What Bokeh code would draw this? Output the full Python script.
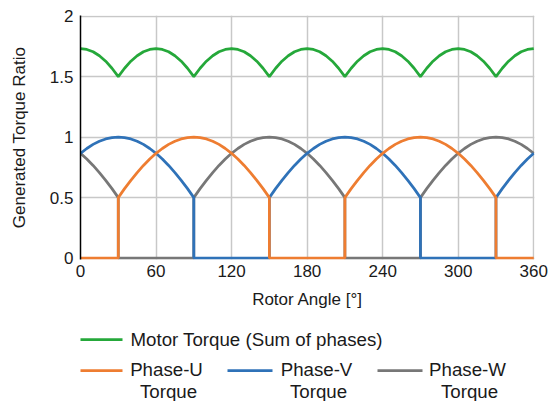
from bokeh.plotting import figure
from bokeh.models import FixedTicker, NumeralTickFormatter, Range1d
from bokeh.layouts import column
from bokeh.core.properties import value
from bokeh.embed import file_html
from bokeh.resources import INLINE

# ---------------- data ----------------
angle = [0, 5, 10, 15, 20, 25, 30,
         30, 35, 40, 45, 50, 55, 60, 65, 70, 75, 80, 85, 90,
         90, 95, 100, 105, 110, 115, 120, 125, 130, 135, 140, 145, 150,
         150, 155, 160, 165, 170, 175, 180, 185, 190, 195, 200, 205, 210,
         210, 215, 220, 225, 230, 235, 240, 245, 250, 255, 260, 265, 270,
         270, 275, 280, 285, 290, 295, 300, 305, 310, 315, 320, 325, 330,
         330, 335, 340, 345, 350, 355, 360]

motor_torque = [1.732, 1.725, 1.706, 1.673, 1.628, 1.570, 1.5,
                1.5, 1.570, 1.628, 1.673, 1.706, 1.725, 1.732, 1.725, 1.706, 1.673, 1.628, 1.570, 1.5,
                1.5, 1.570, 1.628, 1.673, 1.706, 1.725, 1.732, 1.725, 1.706, 1.673, 1.628, 1.570, 1.5,
                1.5, 1.570, 1.628, 1.673, 1.706, 1.725, 1.732, 1.725, 1.706, 1.673, 1.628, 1.570, 1.5,
                1.5, 1.570, 1.628, 1.673, 1.706, 1.725, 1.732, 1.725, 1.706, 1.673, 1.628, 1.570, 1.5,
                1.5, 1.570, 1.628, 1.673, 1.706, 1.725, 1.732, 1.725, 1.706, 1.673, 1.628, 1.570, 1.5,
                1.5, 1.570, 1.628, 1.673, 1.706, 1.725, 1.732]

phase_u = [0, 0, 0, 0, 0, 0, 0,
           0.5, 0.574, 0.643, 0.707, 0.766, 0.819, 0.866, 0.906, 0.940, 0.966, 0.985, 0.996, 1.0,
           1.0, 0.996, 0.985, 0.966, 0.940, 0.906, 0.866, 0.819, 0.766, 0.707, 0.643, 0.574, 0.5,
           0, 0, 0, 0, 0, 0, 0, 0, 0, 0, 0, 0, 0,
           0.5, 0.574, 0.643, 0.707, 0.766, 0.819, 0.866, 0.906, 0.940, 0.966, 0.985, 0.996, 1.0,
           1.0, 0.996, 0.985, 0.966, 0.940, 0.906, 0.866, 0.819, 0.766, 0.707, 0.643, 0.574, 0.5,
           0, 0, 0, 0, 0, 0, 0]

phase_v = [0.866, 0.906, 0.940, 0.966, 0.985, 0.996, 1.0,
           1.0, 0.996, 0.985, 0.966, 0.940, 0.906, 0.866, 0.819, 0.766, 0.707, 0.643, 0.574, 0.5,
           0, 0, 0, 0, 0, 0, 0, 0, 0, 0, 0, 0, 0,
           0.5, 0.574, 0.643, 0.707, 0.766, 0.819, 0.866, 0.906, 0.940, 0.966, 0.985, 0.996, 1.0,
           1.0, 0.996, 0.985, 0.966, 0.940, 0.906, 0.866, 0.819, 0.766, 0.707, 0.643, 0.574, 0.5,
           0, 0, 0, 0, 0, 0, 0, 0, 0, 0, 0, 0, 0,
           0.5, 0.574, 0.643, 0.707, 0.766, 0.819, 0.866]

phase_w = [0.866, 0.819, 0.766, 0.707, 0.643, 0.574, 0.5,
           0, 0, 0, 0, 0, 0, 0, 0, 0, 0, 0, 0, 0,
           0.5, 0.574, 0.643, 0.707, 0.766, 0.819, 0.866, 0.906, 0.940, 0.966, 0.985, 0.996, 1.0,
           1.0, 0.996, 0.985, 0.966, 0.940, 0.906, 0.866, 0.819, 0.766, 0.707, 0.643, 0.574, 0.5,
           0, 0, 0, 0, 0, 0, 0, 0, 0, 0, 0, 0, 0,
           0.5, 0.574, 0.643, 0.707, 0.766, 0.819, 0.866, 0.906, 0.940, 0.966, 0.985, 0.996, 1.0,
           1.0, 0.996, 0.985, 0.966, 0.940, 0.906, 0.866]

x_ticks = [0, 60, 120, 180, 240, 300, 360]
y_ticks = [0, 0.5, 1, 1.5, 2]
x_title = "Rotor Angle [°]"
y_title = "Generated Torque Ratio"
legend_motor = "Motor Torque (Sum of phases)"
legend_phases = [("Phase-U", "Torque"), ("Phase-V", "Torque"), ("Phase-W", "Torque")]

# ---------------- styles / layout ----------------
FONT = "Liberation Sans"
TXT = "#1a1a1a"
GREEN = "#25a83a"
ORANGE = "#ee7d31"
BLUE = "#2f72b8"
GRAY = "#777777"
GRID = "#c8c8c8"
LW = 2.75

FL, FT, FW, FH, FR = 80, 15, 454, 244, 22
MAIN_H = 317
TOTAL_H = 401

p = figure(frame_width=FW, frame_height=FH,
           min_border_left=FL, min_border_right=FR, min_border_top=FT,
           min_border_bottom=MAIN_H - FT - FH,
           x_range=Range1d(0, 360.6), y_range=Range1d(-0.012, 2.006),
           output_backend="svg", toolbar_location=None)
p.outline_line_color = None
p.background_fill_color = "white"
p.border_fill_color = "white"

p.line(angle, motor_torque, line_color=GREEN, line_width=LW)
p.line(angle, phase_w, line_color=GRAY, line_width=LW)
p.line(angle, phase_v, line_color=BLUE, line_width=LW)
p.line(angle, phase_u, line_color=ORANGE, line_width=LW)

p.xaxis.ticker = FixedTicker(ticks=x_ticks)
p.yaxis.ticker = FixedTicker(ticks=y_ticks)
p.yaxis.formatter = NumeralTickFormatter(format="0.[0]")
for ax in (p.xaxis[0], p.yaxis[0]):
    ax.major_tick_in = 0
    ax.major_tick_out = 0
    ax.minor_tick_in = 0
    ax.minor_tick_out = 0
    ax.major_label_text_font = FONT
    ax.major_label_text_font_size = "17px"
    ax.major_label_text_color = TXT
    ax.axis_label_text_font = FONT
    ax.axis_label_text_font_size = "17px"
    ax.axis_label_text_font_style = "normal"
    ax.axis_label_text_color = TXT
p.xaxis.axis_label = x_title
p.yaxis.axis_label = y_title
p.xaxis.axis_line_color = None
p.yaxis.axis_line_color = "black"
p.yaxis.axis_line_width = 1.5
p.xaxis.major_label_standoff = 5
p.xaxis.axis_label_standoff = 10
p.yaxis.major_label_standoff = 7
p.yaxis.axis_label_standoff = 18

p.xgrid.grid_line_color = GRID
p.ygrid.grid_line_color = GRID
p.xgrid.grid_line_width = 1.5
p.ygrid.grid_line_width = 1.5

# ---------------- legend panel (coordinates = page pixels) ----------------
lg = figure(frame_width=FW, frame_height=TOTAL_H - MAIN_H,
            min_border_left=FL, min_border_right=FR, min_border_top=0, min_border_bottom=0,
            x_range=Range1d(FL, FL + FW), y_range=Range1d(TOTAL_H, MAIN_H),
            x_axis_location=None, y_axis_location=None,
            output_backend="svg", toolbar_location=None)
lg.grid.visible = False
lg.outline_line_color = None
lg.background_fill_color = "white"
lg.border_fill_color = "white"

LEG_FS = "18.7px"
lg.line([77, 122], [339, 339], line_color=GREEN, line_width=LW)
lg.text([130], [339], text=[legend_motor], text_font=value(FONT), text_font_size=LEG_FS,
        text_color=TXT, text_align="left", text_baseline="middle")

sample_x = [77, 227, 377]
label_cx = [166, 316, 467]
colors = [ORANGE, BLUE, GRAY]
for sx, cx, col, (l1, l2) in zip(sample_x, label_cx, colors, legend_phases):
    lg.line([sx, sx + 45], [370, 370], line_color=col, line_width=LW)
    lg.text([cx], [369], text=[l1], text_font=value(FONT), text_font_size=LEG_FS,
            text_color=TXT, text_align="center", text_baseline="middle")
    lg.text([cx + 2], [391], text=[l2], text_font=value(FONT), text_font_size=LEG_FS,
            text_color=TXT, text_align="center", text_baseline="middle")

layout = column(p, lg, spacing=0)
open("out.html", "w").write(file_html(layout, INLINE))
